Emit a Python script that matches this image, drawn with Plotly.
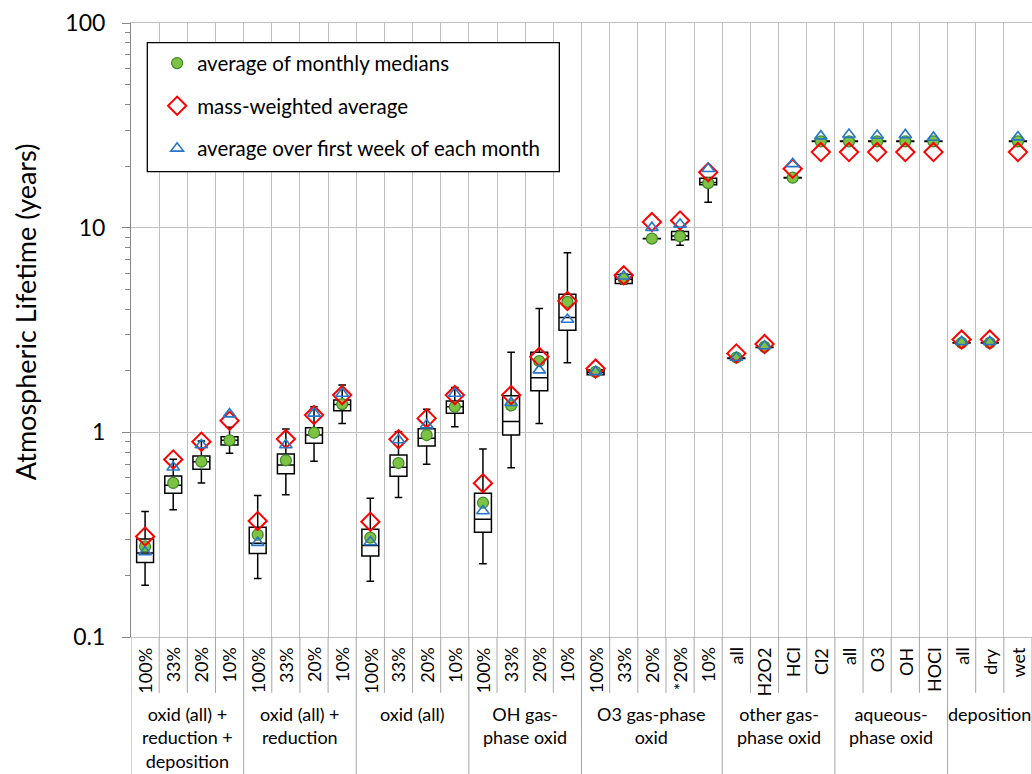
import plotly.graph_objects as go

# category labels (bottom table) and group labels
categories = ["100%", "33%", "20%", "10%",
              "100%", "33%", "20%", "10%",
              "100%", "33%", "20%", "10%",
              "100%", "33%", "20%", "10%",
              "100%", "33%", "20%", "*20%", "10%",
              "all", "H2O2", "HCl", "Cl2",
              "all", "O3", "OH", "HOCl",
              "all", "dry", "wet"]
group_names = ["oxid (all) +<br>reduction +<br>deposition",
               "oxid (all) +<br>reduction",
               "oxid (all)",
               "OH gas-<br>phase oxid",
               "O3 gas-phase<br>oxid",
               "other gas-<br>phase oxid",
               "aqueous-<br>phase oxid",
               "deposition"]
group_sizes = [4, 4, 4, 4, 5, 4, 4, 3]

# box statistics (years)
lower = [0.179, 0.418, 0.566, 0.790, 0.193, 0.496, 0.722, 1.106,
         0.187, 0.480, 0.698, 1.065, 0.228, 0.672, 1.106, 2.186,
         1.89, 5.30, 8.80, 8.20, 13.3,
         2.29, 2.59, 17.45, 26.3, 26.3, 26.3, 26.3, 26.3,
         2.72, 2.72, 26.3]
q1 = [0.231, 0.504, 0.660, 0.867, 0.256, 0.628, 0.884, 1.275,
      0.249, 0.610, 0.857, 1.238, 0.325, 0.970, 1.596, 3.155,
      1.91, 5.33, 8.82, 8.74, 16.2,
      2.295, 2.595, 17.5, 26.4, 26.4, 26.4, 26.4, 26.4,
      2.73, 2.73, 26.4]
median = [0.257, 0.551, 0.719, 0.914, 0.287, 0.693, 0.970, 1.369,
          0.280, 0.675, 0.935, 1.333, 0.376, 1.131, 1.846, 3.64,
          1.96, 5.60, 8.84, 9.10, 16.6,
          2.30, 2.60, 17.54, 26.45, 26.45, 26.45, 26.45, 26.45,
          2.735, 2.735, 26.45]
q3 = [0.301, 0.612, 0.766, 0.952, 0.344, 0.784, 1.053, 1.437,
      0.336, 0.775, 1.041, 1.421, 0.504, 1.508, 2.465, 4.73,
      2.02, 5.90, 8.86, 9.59, 17.46,
      2.305, 2.605, 17.6, 26.5, 26.5, 26.5, 26.5, 26.5,
      2.74, 2.74, 26.5]
upper = [0.410, 0.738, 0.907, 1.058, 0.491, 1.038, 1.333, 1.701,
         0.477, 1.007, 1.295, 1.658, 0.829, 2.465, 4.03, 7.55,
         2.05, 5.95, 8.88, 9.62, 17.6,
         2.31, 2.61, 17.65, 26.6, 26.6, 26.6, 26.6, 26.6,
         2.75, 2.75, 26.6]

# point estimates
monthly_median_avg = [0.277, 0.566, 0.719, 0.914, 0.316, 0.730, 0.996, 1.374,
                      0.306, 0.708, 0.970, 1.333, 0.453, 1.354, 2.227, 4.34,
                      1.975, 5.64, 8.84, 9.07, 16.5,
                      2.32, 2.615, 17.54, 26.4, 26.4, 26.4, 26.4, 26.4,
                      2.735, 2.735, 26.4]
mass_weighted = [0.310, 0.737, 0.900, 1.139, 0.369, 0.927, 1.214, 1.520,
                 0.366, 0.924, 1.170, 1.520, 0.564, 1.520, 2.338, 4.385,
                 2.05, 5.85, 10.65, 10.85, 18.67,
                 2.43, 2.70, 19.4, 23.4, 23.4, 23.4, 23.4, 23.4,
                 2.84, 2.84, 23.4]
first_week_avg = [0.260, 0.675, 0.867, 1.228, 0.289, 0.867, 1.238, 1.549,
                  0.291, 0.917, 1.085, 1.549, 0.413, 1.394, 2.013, 3.56,
                  1.975, 5.79, 10.0, 10.38, 19.4,
                  2.32, 2.64, 20.5, 28.0, 28.5, 28.2, 28.4, 27.6,
                  2.77, 2.77, 27.7]

x = list(range(len(categories)))
FONT = "Lato, 'Open Sans', sans-serif"
GRID = "#c0c0c0"

fig = go.Figure()

fig.add_trace(go.Box(
    x=x, q1=q1, median=median, q3=q3, lowerfence=lower, upperfence=upper,
    boxpoints=False, width=0.6, whiskerwidth=0.45,
    fillcolor="white", line=dict(color="black", width=1.5),
    showlegend=False, hoverinfo="skip"))

fig.add_trace(go.Scatter(
    x=x, y=monthly_median_avg, mode="markers", name="average of monthly medians",
    legendgroup="a",
    marker=dict(symbol="circle", size=11, color="#7dc243",
                line=dict(color="#3b8a26", width=1.2))))
fig.add_trace(go.Scatter(
    x=x, y=mass_weighted, mode="markers", name="mass-weighted average",
    legendgroup="b",
    marker=dict(symbol="diamond-open", size=14, color="#ff0000",
                line=dict(color="#ff0000", width=2))))
fig.add_trace(go.Scatter(
    x=x, y=first_week_avg, mode="markers", name="average over first week of each month",
    legendgroup="c",
    marker=dict(symbol="triangle-up-open", size=11, color="#2677c9",
                line=dict(color="#2677c9", width=1.6))))

# legend frame
fig.add_shape(type="rect", xref="paper", yref="paper",
              x0=0.0181, x1=0.4754, y0=0.758, y1=0.968,
              fillcolor="white", line=dict(color="black", width=1.3), layer="above")

# table below the plot
group_edges = [-0.5]
for s in group_sizes:
    group_edges.append(group_edges[-1] + s)
for i in range(len(categories)):
    b = i - 0.5
    if b in group_edges:
        continue
    fig.add_shape(type="line", xref="x", yref="paper", x0=b, x1=b, y0=0, y1=-0.091,
                  line=dict(color="#a6a6a6", width=1))
for b in group_edges:
    fig.add_shape(type="line", xref="x", yref="paper", x0=b, x1=b, y0=0, y1=-0.23,
                  line=dict(color="#a6a6a6", width=1))

for i, c in enumerate(categories):
    fig.add_annotation(x=i, y=-0.014, xref="x", yref="paper", text=c, textangle=-90,
                       showarrow=False, xanchor="center", yanchor="top",
                       font=dict(size=18, color="black", family=FONT))
for g, name in enumerate(group_names):
    center = (group_edges[g] + group_edges[g + 1]) / 2
    fig.add_annotation(x=center, y=-0.105, xref="x", yref="paper", text=name,
                       showarrow=False, xanchor="center", yanchor="top",
                       font=dict(size=18, color="black", family=FONT))

fig.add_annotation(x=-0.1176, y=0.529, xref="paper", yref="paper",
                   text="Atmospheric Lifetime (years)", textangle=-90, showarrow=False,
                   xanchor="center", yanchor="middle",
                   font=dict(size=27, color="black", family=FONT))

fig.update_layout(
    width=1032, height=774,
    margin=dict(l=131, r=0, t=23, b=137),
    paper_bgcolor="white", plot_bgcolor="white",
    font=dict(family=FONT, color="black"),
    legend=dict(x=0.029, y=0.967, xanchor="left", yanchor="top",
                bgcolor="rgba(0,0,0,0)", borderwidth=0, tracegroupgap=13,
                font=dict(size=20.5, color="black", family=FONT)),
    xaxis=dict(range=[-0.5, len(categories) - 0.5],
               tickvals=[i + 0.5 for i in range(len(categories) - 1)],
               showticklabels=False, ticks="", showgrid=True, gridcolor=GRID,
               zeroline=False, showline=True, mirror=True, linecolor=GRID),
    yaxis=dict(type="log", range=[-1, 2], tickmode="linear", tick0=0, dtick=1,
               showgrid=True, gridcolor=GRID, showline=True, linecolor="#868686",
               ticks="outside", ticklen=8, tickcolor="#868686", ticklabelstandoff=12,
               tickfont=dict(size=23, color="black", family=FONT),
               minor=dict(ticks="outside", ticklen=5, tickcolor="#868686",
                          dtick="D1", showgrid=False)),
)

fig.write_html("out.html", config={"displayModeBar": False},
               post_script="document.body.style.margin='0';")
